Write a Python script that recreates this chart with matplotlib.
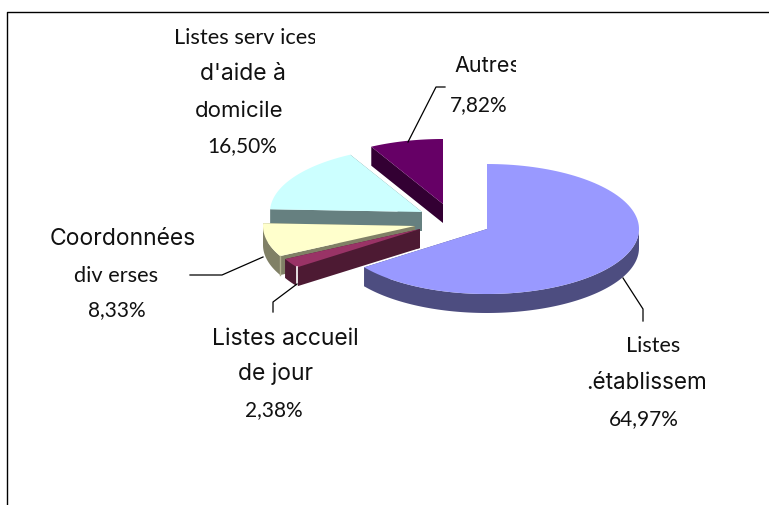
import numpy as np
import matplotlib.pyplot as plt
from matplotlib.patches import Polygon, Rectangle

# Share of each list, clockwise from 12 o'clock
names = ['Listes établissem', 'Listes accueil', 'Coordonnées', 'Listes services', 'Autres']
shares = [64.97, 2.38, 8.33, 16.50, 7.82]
share_labels = ['64,97%', '2,38%', '8,33%', '16,50%', '7,82%']

top_colors = ['#9999FF', '#993366', '#FFFFCC', '#CCFFFF', '#660066']
wall_colors = ['#4D4D80', '#4D1A33', '#808066', '#668080', '#330033']

# Apex of each exploded slice, in pixels
apex = [(487, 230), (420, 230), (415, 227), (422, 213), (443, 205)]
draw_order = [4, 3, 2, 1, 0]
rx, ry, depth = 152, 65, 19

plt.rcParams['font.family'] = ['Inter', 'DejaVu Sans']

fig = plt.figure(figsize=(7.69, 5.06), dpi=100)
ax = fig.add_axes([0, 0, 1, 1])
ax.set_xlim(0, 769)
ax.set_ylim(506, 0)
ax.axis('off')

edges = np.concatenate([[0], np.cumsum(shares)]) / sum(shares) * 2 * np.pi


def rim(cx, cy, t):
    return np.column_stack([cx + rx * np.sin(t), cy - ry * np.cos(t)])


def drop(pts):
    return pts + [0, depth]


for i in draw_order:
    cx, cy = apex[i]
    t0, t1 = edges[i], edges[i + 1]
    arc = rim(cx, cy, np.linspace(t0, t1, 120))
    tip = np.array([[cx, cy]])

    # cut faces first, the top covers whichever one is hidden
    for end in (arc[:1], arc[-1:]):
        face = np.vstack([tip, end, drop(end), drop(tip)])
        ax.add_patch(Polygon(face, fc=wall_colors[i], ec='none', zorder=2))

    # outer wall, only the front half of the ellipse shows
    a = max(t0, np.pi / 2)
    b = min(t1, 3 * np.pi / 2)
    if b > a:
        front = rim(cx, cy, np.linspace(a, b, 120))
        ax.add_patch(Polygon(np.vstack([front, drop(front)[::-1]]),
                             fc=wall_colors[i], ec='none', zorder=2))

    ax.add_patch(Polygon(np.vstack([tip, arc]), fc=top_colors[i], ec='none', zorder=2))

# small highlights on the corners of two slices
corner = rim(*apex[1], edges[1:2])[0]
ax.plot([corner[0], corner[0]], [corner[1], corner[1] + depth], color='white', lw=1.2, zorder=3)
corner = rim(*apex[2], edges[2:3])[0]
ax.plot([corner[0], corner[0]], [corner[1], corner[1] + depth], color='#B0B090', lw=1, zorder=3)

# leader lines
leaders = [
    ([623, 643, 643], [279, 310, 322]),
    ([297, 273, 273], [285, 303, 313]),
    ([263, 222, 190], [258, 276, 276]),
    ([408, 436, 445], [143, 88, 88]),
]
for xs, ys in leaders:
    ax.plot(xs, ys, color='black', lw=0.9, zorder=4)

# chart frame, open on the right and bottom
ax.plot([7, 7, 769], [506, 13, 13], color='black', lw=1, zorder=4)


def label(x, y, text, size=15, clip_right=None, family='Inter'):
    t = ax.text(x, y, text, fontsize=size, color='#111111', family=family,
                ha='left', va='center', zorder=5)
    if clip_right is not None:
        t.set_clip_path(Rectangle((x - 5, y - 25), clip_right - x + 5, 50, transform=ax.transData))
        t.set_clip_on(True)


label(174, 38, 'Listes serv ices', 15.7, 315, family='Lato')
label(200, 74, "d'aide à", 16.5)
label(195, 111, 'domicile', 16)
label(207, 146, share_labels[3], family='Lato')

label(454, 66, names[4], 15.5, 516)
label(450, 105, share_labels[4], family='Lato')

label(50, 239, names[2], 16.5, 195)
label(74, 276, 'div erses', 15.7, family='Lato')
label(88, 310, share_labels[2], family='Lato')

label(212, 339, names[1], 16.5, 360)
label(238, 374, 'de jour', 16.5)
label(245, 410, share_labels[1], family='Lato')

label(626, 346, 'Listes', 15.5, family='Lato')
label(586, 383, '.établissem', 16.2, 705)
label(609, 419, share_labels[0], family='Lato')

fig.savefig('out.png', dpi=100)
